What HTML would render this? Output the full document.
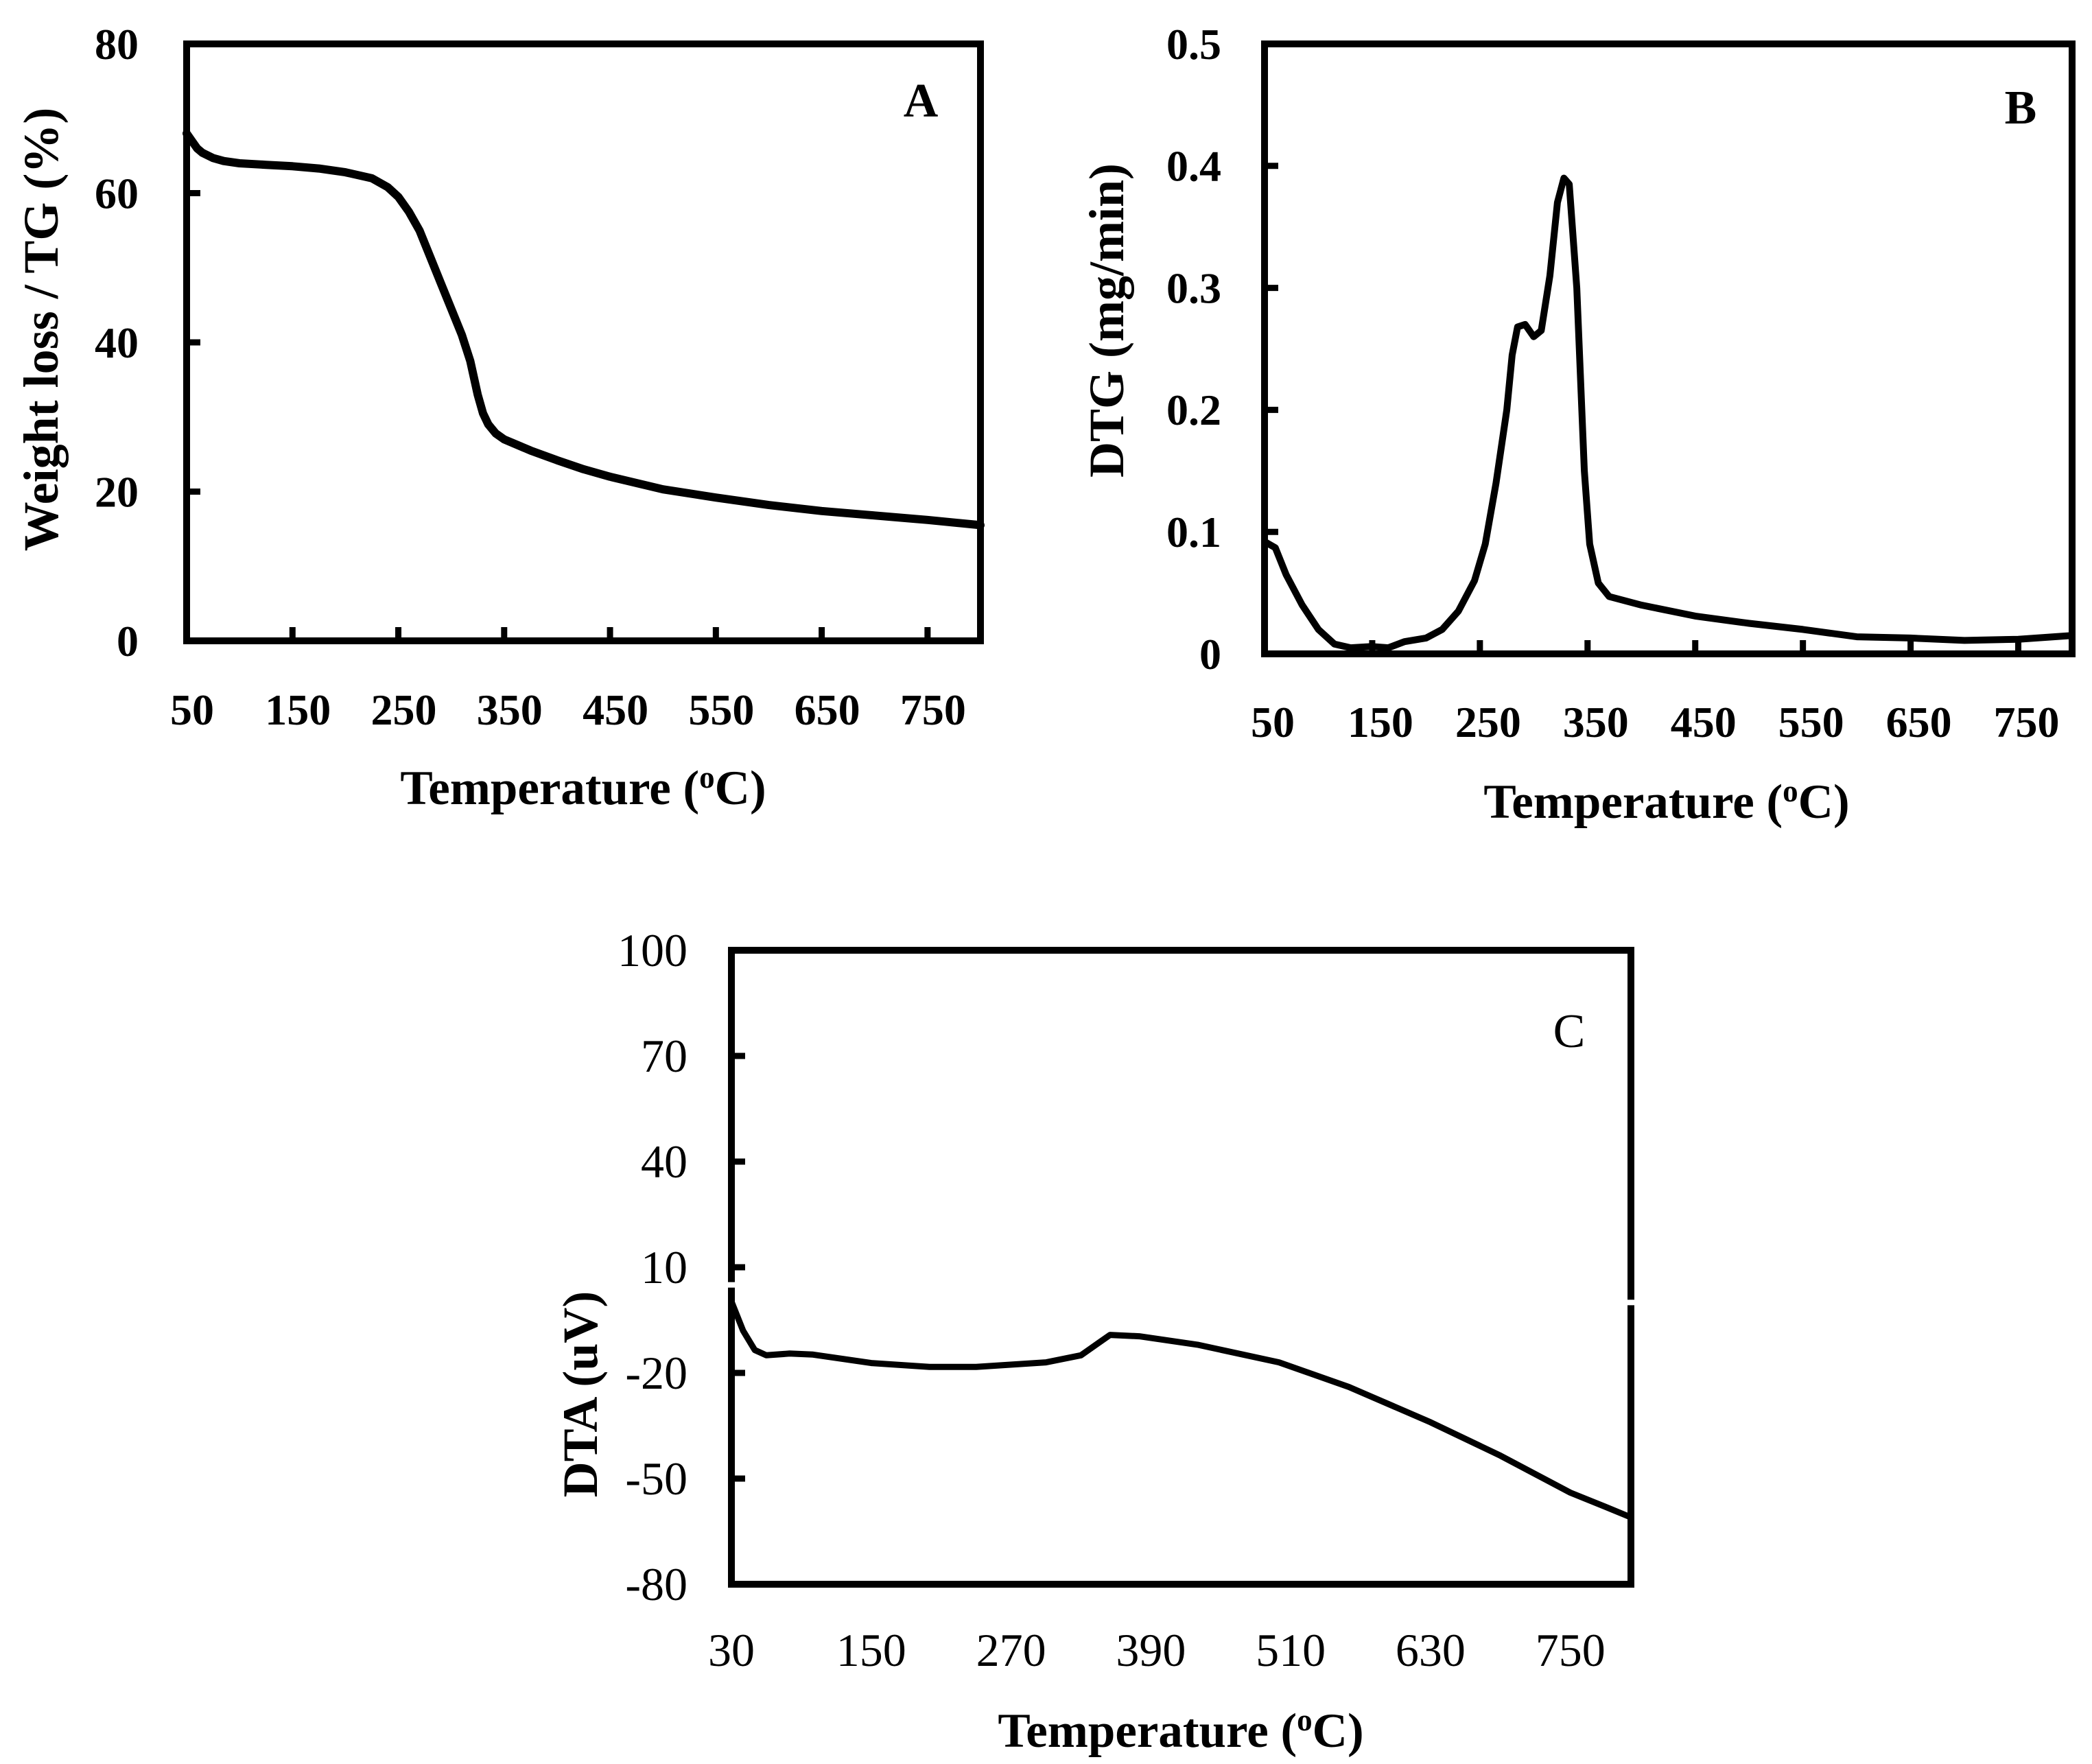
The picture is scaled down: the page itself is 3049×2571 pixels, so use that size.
<!DOCTYPE html>
<html><head><meta charset="utf-8"><style>
html,body{margin:0;padding:0;background:#fff;}
svg{display:block;}
text{font-family:"Liberation Serif",serif;fill:#000;}
.b{font-weight:bold;}
</style></head><body>
<svg id="fig" width="3049" height="2571" viewBox="0 0 3049 2571" xmlns="http://www.w3.org/2000/svg"></svg>
<script>
// Panel A: TG
const tgTemps = [50,55,60,65,75,85,100,125,150,175,200,225,240,250,260,270,280,290,300,310,318,325,330,335,342,350,375,400,425,450,500,550,600,650,700,750,800];
const tgValues = [68,67,66,65.4,64.7,64.3,64,63.8,63.6,63.3,62.8,62,60.8,59.5,57.5,55,51.5,48,44.5,41,37.5,33,30.5,29,27.8,27,25.5,24.2,23,22,20.3,19.2,18.2,17.4,16.8,16.2,15.5];
const tgYTicks = [0,20,40,60,80];
const tgXTicks = [50,150,250,350,450,550,650,750];
// Panel B: DTG
const dtgTemps = [50,60,70,85,100,115,130,150,165,180,200,215,230,245,255,265,275,280,285,292,300,307,315,322,328,333,340,347,352,360,370,400,450,500,550,600,650,700,750,800];
const dtgValues = [0.092,0.087,0.065,0.04,0.02,0.008,0.005,0.006,0.005,0.01,0.013,0.02,0.035,0.06,0.09,0.14,0.2,0.245,0.268,0.27,0.26,0.265,0.31,0.37,0.39,0.385,0.3,0.15,0.09,0.058,0.047,0.04,0.031,0.025,0.02,0.014,0.013,0.011,0.012,0.015];
const dtgYTicks = [0,0.1,0.2,0.3,0.4,0.5];
const dtgYLabels = ["0","0.1","0.2","0.3","0.4","0.5"];
const dtgXTicks = [50,150,250,350,450,550,650,750];
// Panel C: DTA
const dtaTemps = [30,40,50,60,80,100,150,200,240,300,330,345,355,380,430,500,560,630,690,750,780,802];
const dtaValues = [0.3,-8,-13.5,-15,-14.5,-14.8,-17.2,-18.3,-18.3,-17,-15,-11.5,-9.2,-9.6,-12,-17,-24,-34,-43.5,-54,-58,-61];
const dtaYTicks = [-80,-50,-20,10,40,70,100];
const dtaXTicks = [30,150,270,390,510,630,750];

const NS="http://www.w3.org/2000/svg";
const svg=document.getElementById('fig');
function mk(tag,attrs,parent){const e=document.createElementNS(NS,tag);for(const k in attrs)e.setAttribute(k,attrs[k]);(parent||svg).appendChild(e);return e;}
function lin(d0,d1,r0,r1){return v=>r0+(v-d0)/(d1-d0)*(r1-r0);}

function panel(o){
  const g=mk('g',{});
  
  
  const x=lin(o.xd[0],o.xd[1],o.L,o.R), y=lin(o.yd[0],o.yd[1],o.B,o.T);
  const cls=o.bold?'b':'';
  o.yTicks.forEach((v,i)=>{
    const t=mk('line',{x1:o.L-4,x2:o.L+20,y1:y(v),y2:y(v),stroke:'#000','stroke-width':9},g);
    
    
    const lb=mk('text',{x:o.ylx,y:y(v)+o.tfs*0.34,'text-anchor':'end','font-size':o.tfs,class:cls},g);
    lb.textContent=o.yLabels?o.yLabels[i]:String(v);
    
    
  });
  o.xTicks.forEach(v=>{
    if(o.xTickMarks){
      const t=mk('line',{x1:x(v),x2:x(v),y1:o.B+4,y2:o.B-20,stroke:'#000','stroke-width':9},g);
      
      
    }
    const lb=mk('text',{x:x(v)+o.xlOff,y:o.xly,'text-anchor':'middle','font-size':o.tfs,class:cls},g);
    lb.textContent=String(v);
    
    
  });
  const fr=mk('rect',{x:o.L,y:o.T,width:o.R-o.L,height:o.B-o.T,fill:'none',stroke:'#000','stroke-width':10},g);
  
  
  if(o.gaps){o.gaps.forEach(gp=>{mk('rect',{x:gp[0]-7,y:y(gp[1])-4,width:14,height:8,fill:'#fff'},g);});}
  const pts=o.xs.map((v,i)=>x(v).toFixed(1)+','+y(o.ys[i]).toFixed(1)).join(' ');
  const pl=mk('polyline',{points:pts,fill:'none',stroke:'#000','stroke-width':o.lw,'stroke-linejoin':'round','stroke-linecap':'round'},g);
  
  
  const xt=mk('text',{x:o.xtx,y:o.xty,'text-anchor':'middle','font-size':71,class:'b'},g);
  xt.innerHTML='Temperature (<tspan dy="-24" font-size="45">o</tspan><tspan dy="24">C)</tspan>';
  
  
  const yt=mk('text',{x:0,y:0,'text-anchor':'middle','font-size':72,class:'b',transform:`translate(${o.ytx},${o.yty}) rotate(-90)`},g);
  yt.textContent=o.ytitle;
  
  
  const pt=mk('text',{x:o.plx,y:o.ply,'text-anchor':'middle','font-size':70,class:o.bold?'b':''},g);
  pt.textContent=o.letter;
  
  
}

panel({name:'tg-chart',L:272,R:1429,T:64,B:934,xd:[50,800],yd:[0,80],xs:tgTemps,ys:tgValues,
  yTicks:tgYTicks,xTicks:tgXTicks,xTickMarks:true,bold:true,tfs:64,ylx:202,xly:1056,xlOff:8,lw:12,
  xtx:850,xty:1172,ytx:84,yty:480,ytitle:'Weight loss / TG (%)',plx:1342,ply:170,letter:'A'});
panel({name:'dtg-chart',L:1843,R:3020,T:64,B:953,xd:[50,800],yd:[0,0.5],xs:dtgTemps,ys:dtgValues,
  yTicks:dtgYTicks,yLabels:dtgYLabels,xTicks:dtgXTicks,xTickMarks:true,bold:true,tfs:64,ylx:1780,xly:1074,xlOff:12,lw:10,
  xtx:2429,xty:1192,ytx:1637,yty:467,ytitle:'DTG (mg/min)',plx:2945,ply:180,letter:'B'});
panel({name:'dta-chart',L:1066,R:2377,T:1385,B:2309,xd:[30,802],yd:[-80,100],xs:dtaTemps,ys:dtaValues,
  yTicks:dtaYTicks,xTicks:dtaXTicks,xTickMarks:false,bold:false,tfs:68,ylx:1002,xly:2428,xlOff:0,lw:9,
  xtx:1721,xty:2546,ytx:870,yty:2032,ytitle:'DTA (uV)',plx:2287,ply:1526,letter:'C',gaps:[[1066,5],[2377,0]]});
</script>
</body></html>
